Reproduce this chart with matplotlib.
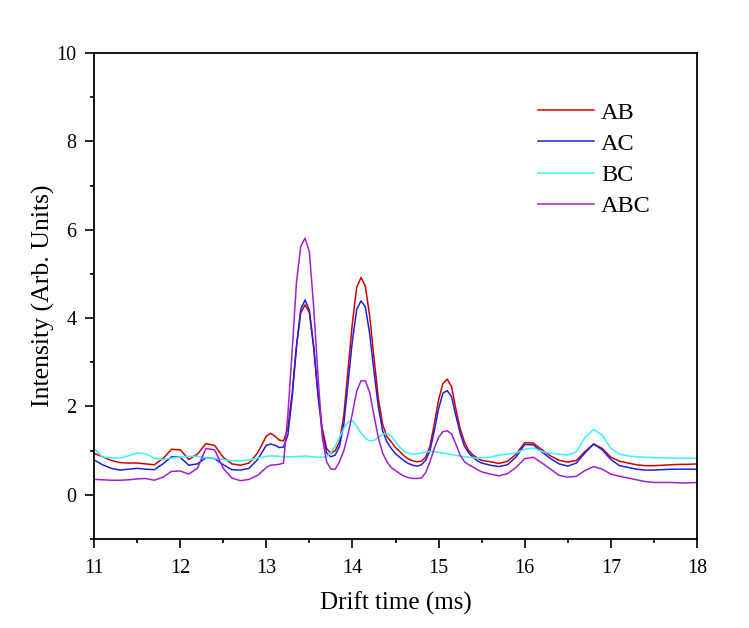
import numpy as np
import matplotlib
matplotlib.use("Agg")
import matplotlib.pyplot as plt
from matplotlib.ticker import MultipleLocator

plt.rcParams["font.family"] = ["Liberation Serif", "DejaVu Serif"]

# drift time sample positions (ms): coarse at the sides, finer around the big peaks
drift_time = np.round(np.concatenate([
    np.arange(11.0, 12.95, 0.1),
    np.arange(13.0, 15.525, 0.05),
    np.arange(15.6, 18.05, 0.1),
]), 2)

ab = [0.94, 0.86, 0.78, 0.73, 0.72, 0.72, 0.70, 0.68, 0.82, 1.03,
      1.02, 0.80, 0.92, 1.16, 1.12, 0.85, 0.70, 0.67, 0.72, 0.95,
      1.33, 1.39, 1.33, 1.24, 1.22, 1.50, 2.30, 3.35, 4.12, 4.30,
      4.12, 3.35, 2.30, 1.50, 1.05, 0.94, 1.00, 1.20, 1.80, 2.85,
      3.90, 4.70, 4.92, 4.72, 4.05, 3.10, 2.20, 1.60, 1.32, 1.20,
      1.07, 0.98, 0.88, 0.81, 0.77, 0.75, 0.76, 0.85, 1.10, 1.60,
      2.15, 2.52, 2.62, 2.45, 1.95, 1.50, 1.20, 1.00, 0.90, 0.83,
      0.78,
      0.75, 0.71, 0.76, 0.92, 1.18, 1.17, 1.02, 0.88, 0.78, 0.74,
      0.78, 0.98, 1.15, 1.05, 0.85, 0.76, 0.72, 0.68, 0.66, 0.66,
      0.67, 0.68, 0.69, 0.69, 0.70]

ac = [0.79, 0.68, 0.60, 0.56, 0.58, 0.60, 0.58, 0.57, 0.70, 0.86,
      0.85, 0.67, 0.70, 0.84, 0.82, 0.68, 0.57, 0.56, 0.60, 0.80,
      1.12, 1.15, 1.12, 1.07, 1.08, 1.35, 2.20, 3.35, 4.20, 4.41,
      4.18, 3.35, 2.25, 1.40, 0.95, 0.86, 0.90, 1.10, 1.60, 2.55,
      3.50, 4.20, 4.39, 4.25, 3.65, 2.80, 2.00, 1.45, 1.20, 1.05,
      0.93, 0.85, 0.77, 0.71, 0.67, 0.65, 0.68, 0.78, 1.00, 1.45,
      1.95, 2.30, 2.36, 2.22, 1.80, 1.40, 1.10, 0.95, 0.85, 0.77,
      0.72,
      0.67, 0.64, 0.68, 0.86, 1.14, 1.13, 0.97, 0.82, 0.70, 0.65,
      0.72, 0.95, 1.15, 1.02, 0.80, 0.66, 0.62, 0.58, 0.56, 0.56,
      0.57, 0.58, 0.58, 0.58, 0.58]

bc = [1.05, 0.85, 0.84, 0.83, 0.88, 0.95, 0.93, 0.83, 0.80, 0.83,
      0.85, 0.87, 0.87, 0.84, 0.82, 0.80, 0.77, 0.77, 0.79, 0.83,
      0.87, 0.88, 0.88, 0.87, 0.86, 0.86, 0.86, 0.87, 0.87, 0.88,
      0.87, 0.86, 0.85, 0.85, 0.87, 0.95, 1.10, 1.30, 1.50, 1.65,
      1.68, 1.55, 1.40, 1.28, 1.22, 1.23, 1.30, 1.37, 1.39, 1.33,
      1.20, 1.08, 0.98, 0.94, 0.92, 0.93, 0.95, 0.97, 0.98, 0.98,
      0.96, 0.95, 0.93, 0.91, 0.89, 0.88, 0.86, 0.85, 0.84, 0.83,
      0.84,
      0.85, 0.90, 0.92, 0.95, 1.03, 1.06, 0.98, 0.94, 0.92, 0.90,
      0.98, 1.30, 1.48, 1.35, 1.05, 0.92, 0.88, 0.86, 0.85, 0.84,
      0.84, 0.83, 0.83, 0.83, 0.83]

abc = [0.35, 0.34, 0.33, 0.33, 0.34, 0.36, 0.37, 0.33, 0.40, 0.53,
       0.54, 0.47, 0.60, 1.05, 1.02, 0.60, 0.38, 0.32, 0.35, 0.44,
       0.62, 0.67, 0.68, 0.69, 0.72, 1.80, 3.25, 4.80, 5.62, 5.81,
       5.50, 4.25, 2.70, 1.30, 0.75, 0.58, 0.58, 0.75, 1.00, 1.38,
       1.85, 2.35, 2.58, 2.58, 2.32, 1.80, 1.30, 0.95, 0.75, 0.62,
       0.55, 0.48, 0.42, 0.39, 0.37, 0.37, 0.38, 0.50, 0.75, 1.05,
       1.30, 1.43, 1.45, 1.38, 1.15, 0.90, 0.75, 0.68, 0.63, 0.57,
       0.52,
       0.47, 0.43, 0.48, 0.62, 0.82, 0.85, 0.72, 0.58, 0.44, 0.40,
       0.42, 0.55, 0.64, 0.58, 0.47, 0.42, 0.38, 0.34, 0.30, 0.28,
       0.28, 0.28, 0.27, 0.27, 0.28]

fig = plt.figure(figsize=(7.49, 6.28), dpi=100)
ax = fig.add_axes([0.1255, 0.1417, 0.8051, 0.7739])

ax.plot(drift_time, ab, color="#d40000", lw=1.1, label="AB")
ax.plot(drift_time, ac, color="#2020e0", lw=1.1, label="AC")
ax.plot(drift_time, bc, color="#38f4f4", lw=1.1, label="BC")
ax.plot(drift_time, abc, color="#a020d0", lw=1.1, label="ABC")

ax.set_xlim(11, 18)
ax.set_ylim(-1, 10)
ax.xaxis.set_major_locator(MultipleLocator(1))
ax.xaxis.set_minor_locator(MultipleLocator(0.5))
ax.yaxis.set_major_locator(MultipleLocator(2))
ax.yaxis.set_minor_locator(MultipleLocator(1))
ax.tick_params(which="both", direction="out", width=1.2, labelsize=14.5, top=False, right=False)
ax.tick_params(which="major", length=6.5)
ax.tick_params(axis="x", which="major", pad=8)
ax.tick_params(axis="y", which="major", pad=6)
ax.tick_params(which="minor", length=3)
for s in ax.spines.values():
    s.set_linewidth(1.3)

ax.set_xlabel("Drift time (ms)", fontsize=18, labelpad=10)
ax.set_ylabel("Intensity (Arb. Units)", fontsize=18.5, labelpad=1)

ax.legend(loc="upper left", bbox_to_anchor=(0.72, 0.92), frameon=False,
          fontsize=17.5, handlelength=2.3, handletextpad=0.3, labelspacing=0.38,
          borderaxespad=0)

fig.savefig("out.png", dpi=100)
